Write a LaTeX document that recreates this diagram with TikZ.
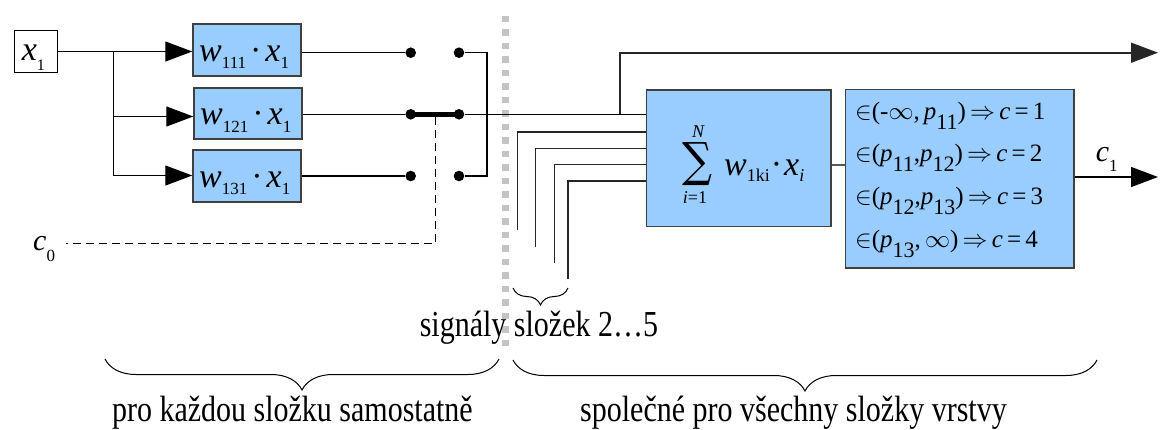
\RequirePackage{fix-cm}
\documentclass[tikz,border=0pt]{standalone}
\usepackage{fontspec}
\setmainfont{Liberation Serif}
\newfontfamily\symf{DejaVu Serif}
\usepackage{graphicx}
\usetikzlibrary{arrows.meta,decorations.pathreplacing}
\definecolor{boxblue}{HTML}{99CCFF}
\definecolor{sepgray}{HTML}{C4C4C4}
\newcommand{\lsub}[3]{\raisebox{-#2}{\fontsize{#1}{#1}\selectfont #3}}
\newcommand{\txt}[1]{\scalebox{1}[1.22]{\fontsize{30}{30}\selectfont #1}}
\newcommand{\wx}[1]{\fontsize{34}{34}\selectfont\textit{w}\lsub{17}{7.6pt}{#1}\hspace{4pt}·\hspace{4pt}\textit{x}\lsub{17}{7.6pt}{1}}
\newcommand{\ivl}[1]{\fontsize{25}{25}\selectfont #1}
\newcommand{\psb}[1]{\lsub{22}{10pt}{#1}}
\begin{document}
\begin{tikzpicture}[x=1pt,y=-1pt,
  ln/.style={line width=1.3pt},
  blk/.style={draw=black!75, line width=1.5pt, fill=boxblue, inner sep=0pt},
  arr/.style={-{Triangle[length=27pt,width=20pt]}},
  dotnode/.style={circle, fill=black, minimum size=10.6pt, inner sep=0pt},
  lbl/.style={inner sep=0pt, anchor=base west},
  brc/.style={decorate, decoration={brace, amplitude=#1}, line width=1pt},
]
\useasboundingbox (0,0) rectangle (1160,429);

% separator
\coordinate (sept) at (505.3,15.7);
\coordinate (sepb) at (505.3,350);
\draw[line width=7pt, sepgray, dash pattern=on 6.7pt off 6.8pt] (sept) -- (sepb);

% input
\node[draw, line width=1.3pt, inner sep=0pt, minimum width=43.4pt, minimum height=42.3pt] (x1) at (36,51.5) {};
\node[lbl] (x1t) at (21.7,60) {\fontsize{34}{34}\selectfont\textit{x}\lsub{16}{10.7pt}{1}};

% weight boxes
\node[blk, minimum width=108pt, minimum height=52pt] (b1) at (247,50) {};
\node[blk, minimum width=108pt, minimum height=51pt] (b2) at (248,113.5) {};
\node[blk, minimum width=108pt, minimum height=52pt] (b3) at (247,176) {};
\node[lbl] (t1) at (199,61.2) {\wx{111}};
\node[lbl] (t2) at (200,124.5) {\wx{121}};
\node[lbl] (t3) at (199,187) {\wx{131}};

\coordinate (br1) at (113.3,51.5);
\coordinate (br2) at (113.3,116.5);
\coordinate (br3) at (113.3,175.5);
\draw[ln] (x1.east |- br1) -- (br1) -- (br3);
\draw[ln,arr] (br1) -- (b1.west |- br1);
\draw[ln,arr] (br2) -- (b2.west |- br2);
\draw[ln,arr] (br3) -- (b3.west |- br3);

% switch
\node[dotnode] (d11) at (410.7,52.7) {};
\node[dotnode] (d12) at (459,52.7) {};
\node[dotnode] (d21) at (410.7,114.3) {};
\node[dotnode] (d22) at (459,114.3) {};
\node[dotnode] (d31) at (410.7,176) {};
\node[dotnode] (d32) at (459,176) {};
\draw[ln] (b1.east |- d11) -- (d11);
\draw[ln] (b2.east |- d21) -- (d21);
\draw[ln] (b3.east |- d31) -- (d31);
\coordinate (rv1) at (487,52.7);
\coordinate (rv3) at (487,176);
\draw[ln] (d12) -- (rv1) -- (rv3) -- (d32);
\draw[line width=5.5pt] (d21.center) -- (d22.center);

% control c0
\coordinate (sw) at (435.5,117);
\coordinate (sc) at (435.5,243.3);
\coordinate (c0e) at (65.7,243.3);
\draw[line width=1pt, dash pattern=on 7.5pt off 5.5pt] (sw) -- (sc) -- (c0e);
\node[lbl] (c0) at (33,250) {\fontsize{30}{30}\selectfont\textit{c}\lsub{17}{11pt}{0}};

% sum box
\node[blk, minimum width=184.3pt, minimum height=136.7pt] (sum) at (738.8,158.3) {};
\node[inner sep=0pt] (sigma) at (697.5,164) {\resizebox{30pt}{34pt}{\symf ∑}};
\node[inner sep=0pt, anchor=base] (supN) at (698.5,137) {\fontsize{18}{18}\selectfont\textit{N}};
\node[inner sep=0pt, anchor=base] (subi) at (695,203) {\fontsize{18}{18}\selectfont\textit{i}=1};
\node[lbl] (sumt) at (724,175) {\fontsize{34}{34}\selectfont\textit{w}\lsub{18}{6.7pt}{1ki}\hspace{1pt}·\hspace{2pt}\textit{x}\lsub{18}{6.7pt}{\textit{i}}};

% main signal to sum and top output
\draw[ln] (d22) -- (sum.west |- d22);
\coordinate (tb) at (620,114.3);
\coordinate (tt) at (620,52.7);
\coordinate (tend) at (1158,52.7);
\draw[line width=1.6pt, black!85, arr] (tb) -- (tt) -- (tend);

% signals of other components
\coordinate (s1b) at (517.7,230);   \coordinate (s1t) at (517.7,132);
\coordinate (s2b) at (535.7,247);   \coordinate (s2t) at (535.7,148.7);
\coordinate (s3b) at (554.3,262.7); \coordinate (s3t) at (554.3,164.3);
\coordinate (s4b) at (568,279.3);   \coordinate (s4t) at (568,181);
\draw[ln, black!85] (s1b) -- (s1t) -- (sum.west |- s1t);
\draw[ln, black!85] (s2b) -- (s2t) -- (sum.west |- s2t);
\draw[ln, black!85] (s3b) -- (s3t) -- (sum.west |- s3t);
\draw[ln, black!85] (s4b) -- (s4t) -- (sum.west |- s4t);

% interval box
\node[blk, minimum width=228.3pt, minimum height=178.7pt] (int) at (959.8,178.7) {};
\coordinate (mid) at (838,165);
\draw[ln, black!65] (sum.east |- mid) -- (int.west |- mid);
\node[lbl] (l1) at (855,119.3) {\ivl{$\in$(-$\infty$,\,\textit{p}\psb{11})\,$\Rightarrow$\,\textit{c}\,=\,1}};
\node[lbl] (l2) at (855,161.7) {\ivl{$\in$(\textit{p}\psb{11},\textit{p}\psb{12})\,$\Rightarrow$\,\textit{c}\,=\,2}};
\node[lbl] (l3) at (855,204.3) {\ivl{$\in$(\textit{p}\psb{12},\textit{p}\psb{13})\,$\Rightarrow$\,\textit{c}\,=\,3}};
\node[lbl] (l4) at (855,247.7) {\ivl{$\in$(\textit{p}\psb{13},\,$\infty$)\,$\Rightarrow$\,\textit{c}\,=\,4}};

% output c1
\coordinate (c1e) at (1158,177);
\draw[ln,arr] (int.east |- c1e) -- (c1e);
\node[lbl] (c1) at (1095.7,161.7) {\fontsize{30}{30}\selectfont\textit{c}\lsub{17}{10pt}{1}};

% braces and texts
\coordinate (sbr) at (568,288);
\coordinate (sbl) at (513,288);
\draw[brc=17pt] (sbr) -- (sbl);
\coordinate (lbr) at (499,359);
\coordinate (lbl0) at (105,359);
\draw[brc=31pt] (lbr) -- (lbl0);
\coordinate (rbr) at (1097,360);
\coordinate (rbl) at (513,360);
\draw[brc=31pt] (rbr) -- (rbl);

\node[inner sep=0pt, anchor=base] (sigtxt) at (538.9,336) {\txt{signály složek 2…5}};
\node[inner sep=0pt, anchor=base] (lefttxt) at (292.4,421.7) {\txt{pro každou složku samostatně}};
\node[inner sep=0pt, anchor=base] (righttxt) at (793.5,421.7) {\txt{společné pro všechny složky vrstvy}};
\end{tikzpicture}
\end{document}
